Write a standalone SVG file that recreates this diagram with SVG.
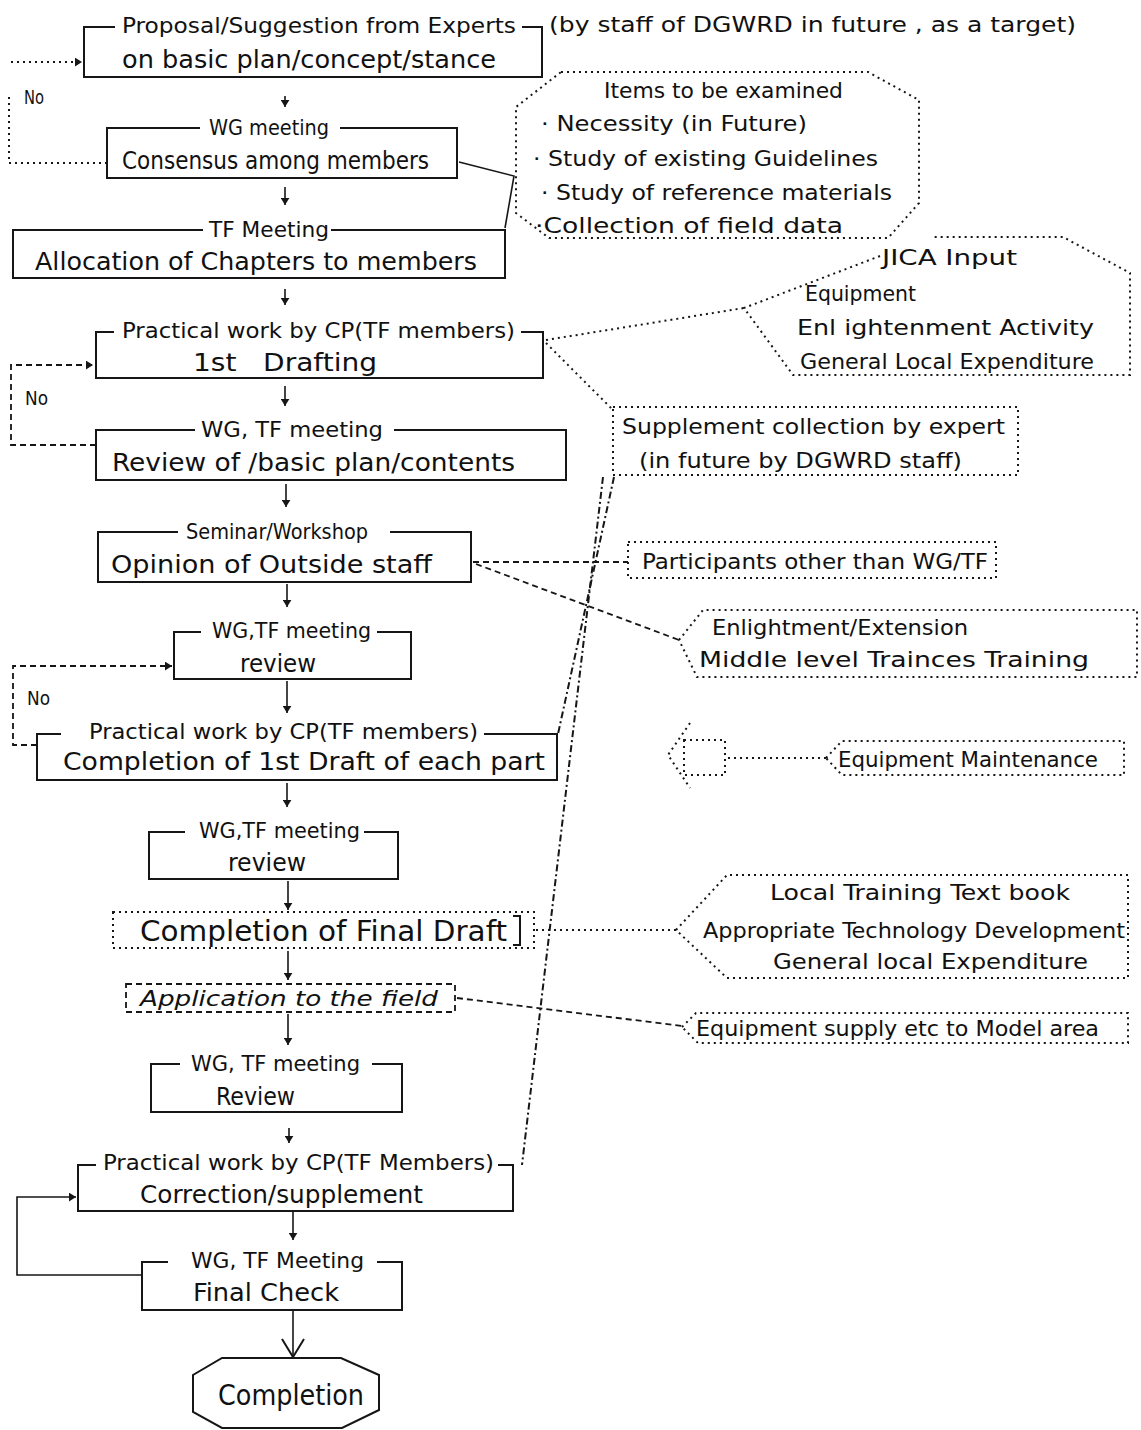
<svg xmlns="http://www.w3.org/2000/svg" width="1141" height="1430" viewBox="0 0 1141 1430">
<style>
.box{fill:none;stroke:#161616;stroke-width:2}
.dot{fill:none;stroke:#161616;stroke-width:2;stroke-dasharray:2 4}
.dash{fill:none;stroke:#161616;stroke-width:1.8;stroke-dasharray:6 4}
.dd{fill:none;stroke:#161616;stroke-width:2;stroke-dasharray:7 3 2 3}
.ln{fill:none;stroke:#161616;stroke-width:1.6}
.t{font-family:"DejaVu Sans Condensed","DejaVu Sans",sans-serif;font-size:22px;fill:#111;dominant-baseline:central}
.s{font-size:20px}
.b{font-size:24px}
.L{font-size:28px}
.i{font-style:italic}
</style>
<defs>
<marker id="ah" viewBox="0 0 8 10" refX="8" refY="5" markerWidth="7" markerHeight="9" markerUnits="userSpaceOnUse" orient="auto">
<path d="M0,0 L8,5 L0,10 z" fill="#161616"/>
</marker>
<marker id="v" viewBox="0 0 24 20" refX="12" refY="19" markerWidth="24" markerHeight="20" markerUnits="userSpaceOnUse" orient="0">
<path d="M1,1 L12,19 L23,1" fill="none" stroke="#161616" stroke-width="2"/>
</marker>
</defs>
<rect width="1141" height="1430" fill="#fff"/>

<g id="connectors">
<path class="ln" d="M285,96 L285,107" marker-end="url(#ah)"/>
<path class="ln" d="M285,187 L285,205" marker-end="url(#ah)"/>
<path class="ln" d="M285,289 L285,305" marker-end="url(#ah)"/>
<path class="ln" d="M285,386 L285,406" marker-end="url(#ah)"/>
<path class="ln" d="M286,484 L286,507" marker-end="url(#ah)"/>
<path class="ln" d="M287,584 L287,607" marker-end="url(#ah)"/>
<path class="ln" d="M287,681 L287,713" marker-end="url(#ah)"/>
<path class="ln" d="M287,783 L287,807" marker-end="url(#ah)"/>
<path class="ln" d="M288,881 L288,910" marker-end="url(#ah)"/>
<path class="ln" d="M288,951 L288,980" marker-end="url(#ah)"/>
<path class="ln" d="M288,1014 L288,1045" marker-end="url(#ah)"/>
<path class="ln" d="M289,1128 L289,1143" marker-end="url(#ah)"/>
<path class="ln" d="M293,1212 L293,1240" marker-end="url(#ah)"/>
<path class="ln" d="M293,1311 L293,1357" stroke-width="2" marker-end="url(#v)"/>
<path class="dot" d="M11,62 L82,62" marker-end="url(#ah)"/>
<path class="dot" d="M107,163 L9,163 L9,93"/>
<text class="t s" x="24" y="97" textLength="20" lengthAdjust="spacingAndGlyphs">No</text>
<path class="dash" d="M96,445 L11,445 L11,365 L93,365" marker-end="url(#ah)"/>
<text class="t s" x="25" y="398" textLength="23" lengthAdjust="spacingAndGlyphs">No</text>
<path class="dash" d="M37,745 L13,745 L13,666 L172,666" marker-end="url(#ah)"/>
<text class="t s" x="27" y="698" textLength="23" lengthAdjust="spacingAndGlyphs">No</text>
<path class="ln" d="M142,1275 L17,1275 L17,1197 L76,1197" marker-end="url(#ah)"/>
<path class="ln" d="M459,162 L514,176 L505,228"/>
<path class="dot" d="M546,340 L744,308"/>
<path class="dot" d="M546,343 L613,410"/>
<path class="dash" d="M473,562 L628,562"/>
<path class="dash" d="M476,564 L679,640"/>
<path class="dd" d="M614,477 L558,734"/>
<path class="dd" d="M603,477 L522,1165"/>
<path class="dot" d="M536,930 L676,930"/>
<path class="dash" d="M457,998 L682,1026"/>
<path class="dot" d="M728,758 L826,758"/>
</g>

<g id="n1">
<path class="box" d="M115,27 L84,27 L84,77 L542,77 L542,27 L522,27"/>
<text class="t" x="122" y="25" textLength="394" lengthAdjust="spacingAndGlyphs">Proposal/Suggestion from Experts</text>
<text class="t b" x="122" y="60" textLength="374" lengthAdjust="spacingAndGlyphs">on basic plan/concept/stance</text>
</g>
<text class="t" x="549" y="24" textLength="527" lengthAdjust="spacingAndGlyphs">(by staff of DGWRD in future , as a target)</text>

<g id="n2">
<path class="box" d="M200,128 L107,128 L107,178 L457,178 L457,128 L340,128"/>
<text class="t" x="209" y="127" textLength="120" lengthAdjust="spacingAndGlyphs">WG meeting</text>
<text class="t b" x="122" y="161" textLength="307" lengthAdjust="spacingAndGlyphs">Consensus among members</text>
</g>

<g id="items">
<path class="dot" d="M561,72 L868,72 L919,100 L919,203 L888,238 L549,238 L516,213 L516,107 Z"/>
<text class="t" x="604" y="90" textLength="239" lengthAdjust="spacingAndGlyphs">Items to be examined</text>
<text class="t" x="541" y="123" textLength="266" lengthAdjust="spacingAndGlyphs">· Necessity (in Future)</text>
<text class="t" x="533" y="158" textLength="345" lengthAdjust="spacingAndGlyphs">· Study of existing Guidelines</text>
<text class="t" x="541" y="192" textLength="351" lengthAdjust="spacingAndGlyphs">· Study of reference materials</text>
<text class="t" x="535" y="225" textLength="308" lengthAdjust="spacingAndGlyphs">·Collection of field data</text>
</g>

<g id="n3">
<path class="box" d="M203,230 L13,230 L13,278 L505,278 L505,230 L331,230"/>
<text class="t" x="209" y="229" textLength="120" lengthAdjust="spacingAndGlyphs">TF Meeting</text>
<text class="t b" x="35" y="262" textLength="442" lengthAdjust="spacingAndGlyphs">Allocation of Chapters to members</text>
</g>

<g id="jica">
<path class="dot" d="M880,256 L744,308 L793,375 L1130,375 L1130,273 L1063,237 L932,237"/>
<text class="t" x="882" y="257" textLength="135" lengthAdjust="spacingAndGlyphs">JICA Input</text>
<text class="t" x="805" y="293" textLength="111" lengthAdjust="spacingAndGlyphs">Equipment</text>
<text class="t" x="797" y="327" textLength="297" lengthAdjust="spacingAndGlyphs" xml:space="preserve">Enl ightenment Activity</text>
<text class="t" x="800" y="361" textLength="294" lengthAdjust="spacingAndGlyphs">General Local Expenditure</text>
</g>

<g id="n4">
<path class="box" d="M114,332 L96,332 L96,378 L543,378 L543,332 L521,332"/>
<text class="t" x="122" y="330" textLength="393" lengthAdjust="spacingAndGlyphs">Practical work by CP(TF members)</text>
<text class="t b" x="193" y="363" textLength="184" lengthAdjust="spacingAndGlyphs" xml:space="preserve">1st   Drafting</text>
</g>

<g id="supplement">
<rect class="dot" x="613" y="407" width="405" height="68"/>
<text class="t" x="622" y="426" textLength="383" lengthAdjust="spacingAndGlyphs">Supplement collection by expert</text>
<text class="t" x="639" y="460" textLength="323" lengthAdjust="spacingAndGlyphs">(in future by DGWRD staff)</text>
</g>

<g id="n5">
<path class="box" d="M195,430 L96,430 L96,480 L566,480 L566,430 L394,430"/>
<text class="t" x="201" y="429" textLength="182" lengthAdjust="spacingAndGlyphs">WG, TF meeting</text>
<text class="t b" x="112" y="463" textLength="403" lengthAdjust="spacingAndGlyphs">Review of /basic plan/contents</text>
</g>

<g id="n6">
<path class="box" d="M178,532 L98,532 L98,582 L471,582 L471,532 L390,532"/>
<text class="t" x="186" y="531" textLength="182" lengthAdjust="spacingAndGlyphs">Seminar/Workshop</text>
<text class="t b" x="111" y="565" textLength="321" lengthAdjust="spacingAndGlyphs">Opinion of Outside staff</text>
</g>

<g id="participants">
<rect class="dot" x="628" y="542" width="368" height="36"/>
<text class="t" x="642" y="561" textLength="346" lengthAdjust="spacingAndGlyphs">Participants other than WG/TF</text>
</g>

<g id="enlightment">
<path class="dot" d="M679,640 L703,610 L1137,610 L1137,677 L697,677 Z"/>
<text class="t" x="712" y="627" textLength="256" lengthAdjust="spacingAndGlyphs">Enlightment/Extension</text>
<text class="t" x="699" y="659" textLength="390" lengthAdjust="spacingAndGlyphs">Middle level Trainces Training</text>
</g>

<g id="n7">
<path class="box" d="M201,632 L174,632 L174,679 L411,679 L411,632 L377,632"/>
<text class="t" x="212" y="630" textLength="159" lengthAdjust="spacingAndGlyphs">WG,TF meeting</text>
<text class="t b" x="240" y="664" textLength="76" lengthAdjust="spacingAndGlyphs">review</text>
</g>

<g id="n8">
<path class="box" d="M61,734 L37,734 L37,780 L557,780 L557,734 L484,734"/>
<text class="t" x="89" y="731" textLength="389" lengthAdjust="spacingAndGlyphs">Practical work by CP(TF members)</text>
<text class="t b" x="63" y="762" textLength="482" lengthAdjust="spacingAndGlyphs">Completion of 1st Draft of each part</text>
</g>

<g id="maintenance">
<path class="dot" d="M690,723 L668,755 L690,788"/>
<rect class="dot" x="684" y="740" width="41" height="35"/>
<path class="dot" d="M826,758 L842,741 L1124,741 L1124,775 L842,775 Z"/>
<text class="t" x="838" y="759" textLength="260" lengthAdjust="spacingAndGlyphs">Equipment Maintenance</text>
</g>

<g id="n9">
<path class="box" d="M185,832 L149,832 L149,879 L398,879 L398,832 L364,832"/>
<text class="t" x="199" y="830" textLength="161" lengthAdjust="spacingAndGlyphs">WG,TF meeting</text>
<text class="t b" x="228" y="863" textLength="78" lengthAdjust="spacingAndGlyphs">review</text>
</g>

<g id="n10">
<rect class="dot" x="113" y="912" width="421" height="36"/>
<path class="box" d="M513,916 L520,916 L520,945 L513,945"/>
<text class="t L" x="140" y="931" textLength="367" lengthAdjust="spacingAndGlyphs">Completion of Final Draft</text>
</g>

<g id="local">
<path class="dot" d="M676,930 L727,875 L1128,875 L1128,978 L727,978 Z"/>
<text class="t" x="770" y="892" textLength="300" lengthAdjust="spacingAndGlyphs">Local Training Text book</text>
<text class="t" x="703" y="930" textLength="422" lengthAdjust="spacingAndGlyphs">Appropriate Technology Development</text>
<text class="t" x="773" y="961" textLength="315" lengthAdjust="spacingAndGlyphs">General local Expenditure</text>
</g>

<g id="n11">
<rect class="dash" x="126" y="984" width="329" height="28"/>
<text class="t i" x="140" y="998" textLength="298" lengthAdjust="spacingAndGlyphs">Application to the field</text>
</g>

<g id="supply">
<path class="dot" d="M682,1027 L696,1013 L1128,1013 L1128,1043 L698,1043 Z"/>
<text class="t" x="696" y="1028" textLength="403" lengthAdjust="spacingAndGlyphs">Equipment supply etc to Model area</text>
</g>

<g id="n12">
<path class="box" d="M180,1064 L151,1064 L151,1112 L402,1112 L402,1064 L372,1064"/>
<text class="t" x="191" y="1063" textLength="169" lengthAdjust="spacingAndGlyphs">WG, TF meeting</text>
<text class="t b" x="216" y="1097" textLength="79" lengthAdjust="spacingAndGlyphs">Review</text>
</g>

<g id="n13">
<path class="box" d="M96,1165 L78,1165 L78,1211 L513,1211 L513,1165 L498,1165"/>
<text class="t" x="103" y="1162" textLength="391" lengthAdjust="spacingAndGlyphs">Practical work by CP(TF Members)</text>
<text class="t b" x="140" y="1195" textLength="283" lengthAdjust="spacingAndGlyphs">Correction/supplement</text>
</g>

<g id="n14">
<path class="box" d="M168,1262 L142,1262 L142,1310 L402,1310 L402,1262 L377,1262"/>
<text class="t" x="191" y="1260" textLength="173" lengthAdjust="spacingAndGlyphs">WG, TF Meeting</text>
<text class="t b" x="193" y="1293" textLength="146" lengthAdjust="spacingAndGlyphs">Final Check</text>
</g>

<g id="completion">
<path class="box" d="M222,1358 L341,1358 L379,1375 L379,1410 L342,1428 L222,1428 L193,1412 L193,1375 Z"/>
<text class="t L" x="218" y="1395" textLength="146" lengthAdjust="spacingAndGlyphs">Completion</text>
</g>
</svg>
